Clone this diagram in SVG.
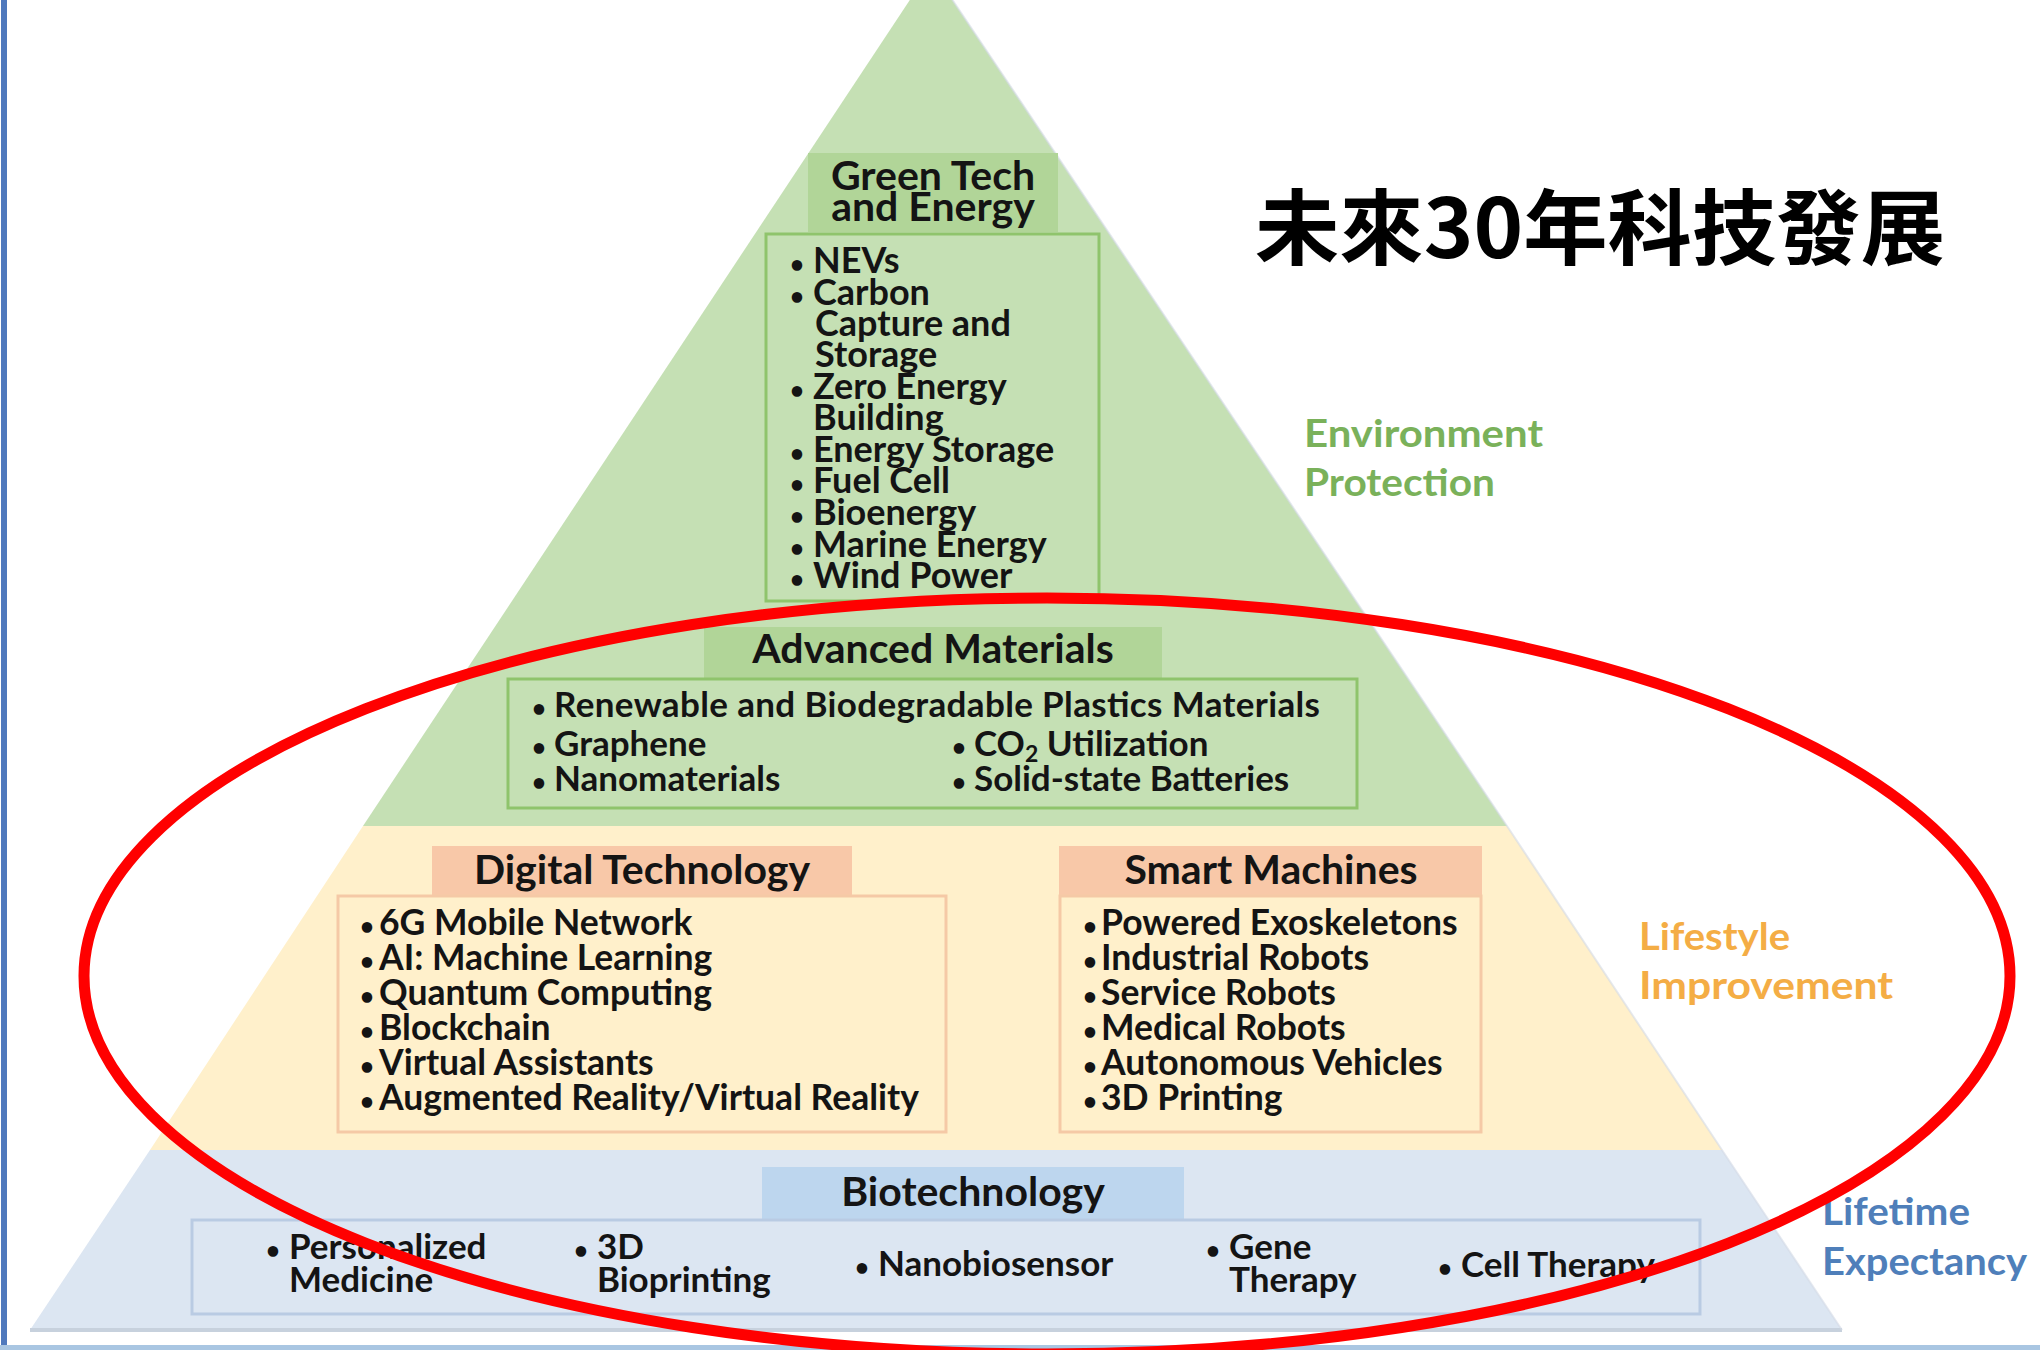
<svg xmlns="http://www.w3.org/2000/svg" width="2040" height="1350" viewBox="0 0 2040 1350">
<style>
.t{font-family:Lato,"Liberation Sans","Noto Sans",sans-serif;font-weight:700;fill:#141414}
.h{font-size:41px;text-anchor:middle}
.lg{font-size:36px}
.la{font-size:35px}
.ld{font-size:35.5px}
.lb{font-size:35px}
.bu{font-size:24px}
.side{font-family:Lato,"Liberation Sans",sans-serif;font-weight:700;font-size:38px}
.gbox{fill:#c5e0b4;stroke:#8fc46c;stroke-width:3}
.ghead{fill:#b1d598}
.ybox{fill:#fff0cb;stroke:#f5c9a6;stroke-width:3}
.yhead{fill:#f8c8a8}
.bbox{fill:#dce6f2;stroke:#b9cbe3;stroke-width:3}
.bhead{fill:#bdd6ee}
</style>
<rect x="0" y="0" width="2040" height="1350" fill="#ffffff"/>
<g id="frame">
<rect x="1" y="0" width="6" height="1350" fill="#4f79bd"/>
<rect x="0" y="1345" width="2040" height="5" fill="#a9c6e2"/>
</g>
<g id="pyramid">
<polygon points="931,-32 1507,826 363,826" fill="#c5e0b4"/>
<polygon points="363,826 1507,826 1722,1150 150,1150" fill="#fff0cb"/>
<polygon points="150,1150 1722,1150 1842,1330 30,1330" fill="#dce6f2"/>
<line x1="30" y1="1330" x2="1842" y2="1330" stroke="#c7d1dd" stroke-width="4"/>
<polyline points="931,-32 1507,826 1722,1150 1842,1330" fill="none" stroke="#d3dbe6" stroke-width="2" opacity="0.6"/>
</g>
<g id="green-tech">
<rect class="ghead" x="808" y="153" width="250" height="79"/>
<rect class="gbox" x="766" y="234" width="333" height="367"/>
<text class="t h" x="933" y="190">Green Tech</text>
<text class="t h" x="933" y="221">and Energy</text>
<g class="t lg">
<text y="273"><tspan class="bu" x="790">•</tspan><tspan x="813">NEVs</tspan></text>
<text y="305"><tspan class="bu" x="790">•</tspan><tspan x="813">Carbon</tspan></text>
<text x="815" y="336">Capture and</text>
<text x="815" y="367">Storage</text>
<text y="399"><tspan class="bu" x="790">•</tspan><tspan x="813">Zero Energy</tspan></text>
<text x="813" y="430">Building</text>
<text y="462"><tspan class="bu" x="790">•</tspan><tspan x="813">Energy Storage</tspan></text>
<text y="493"><tspan class="bu" x="790">•</tspan><tspan x="813">Fuel Cell</tspan></text>
<text y="525"><tspan class="bu" x="790">•</tspan><tspan x="813">Bioenergy</tspan></text>
<text y="557"><tspan class="bu" x="790">•</tspan><tspan x="813">Marine Energy</tspan></text>
<text y="588"><tspan class="bu" x="790">•</tspan><tspan x="813">Wind Power</tspan></text>
</g>
</g>
<g id="advanced-materials">
<rect class="ghead" x="704" y="627" width="458" height="51"/>
<rect class="gbox" x="508" y="679" width="849" height="129"/>
<text class="t h" x="933" y="663">Advanced Materials</text>
<g class="t la">
<text y="717"><tspan class="bu" x="532">•</tspan><tspan x="554" textLength="766" lengthAdjust="spacing">Renewable and Biodegradable Plastics Materials</tspan></text>
<text y="756"><tspan class="bu" x="532">•</tspan><tspan x="554">Graphene</tspan></text>
<text y="791"><tspan class="bu" x="532">•</tspan><tspan x="554">Nanomaterials</tspan></text>
<text y="756"><tspan class="bu" x="952">•</tspan><tspan x="974">CO</tspan><tspan font-size="23" dy="6">2</tspan><tspan dy="-6"> Utilization</tspan></text>
<text y="791"><tspan class="bu" x="952">•</tspan><tspan x="974">Solid-state Batteries</tspan></text>
</g>
</g>
<g id="digital-technology">
<rect class="yhead" x="432" y="846" width="420" height="50"/>
<rect class="ybox" x="338" y="896" width="608" height="236"/>
<text class="t h" x="642" y="884">Digital Technology</text>
<g class="t ld">
<text y="935"><tspan class="bu" x="360">•</tspan><tspan x="379">6G Mobile Network</tspan></text>
<text y="970"><tspan class="bu" x="360">•</tspan><tspan x="379">AI: Machine Learning</tspan></text>
<text y="1005"><tspan class="bu" x="360">•</tspan><tspan x="379">Quantum Computing</tspan></text>
<text y="1040"><tspan class="bu" x="360">•</tspan><tspan x="379">Blockchain</tspan></text>
<text y="1075"><tspan class="bu" x="360">•</tspan><tspan x="379">Virtual Assistants</tspan></text>
<text y="1110"><tspan class="bu" x="360">•</tspan><tspan x="379">Augmented Reality/Virtual Reality</tspan></text>
</g>
</g>
<g id="smart-machines">
<rect class="yhead" x="1059" y="846" width="423" height="50"/>
<rect class="ybox" x="1060" y="896" width="421" height="236"/>
<text class="t h" x="1271" y="884">Smart Machines</text>
<g class="t ld">
<text y="935"><tspan class="bu" x="1083">•</tspan><tspan x="1101">Powered Exoskeletons</tspan></text>
<text y="970"><tspan class="bu" x="1083">•</tspan><tspan x="1101">Industrial Robots</tspan></text>
<text y="1005"><tspan class="bu" x="1083">•</tspan><tspan x="1101">Service Robots</tspan></text>
<text y="1040"><tspan class="bu" x="1083">•</tspan><tspan x="1101">Medical Robots</tspan></text>
<text y="1075"><tspan class="bu" x="1083">•</tspan><tspan x="1101">Autonomous  Vehicles</tspan></text>
<text y="1110"><tspan class="bu" x="1083">•</tspan><tspan x="1101">3D Printing</tspan></text>
</g>
</g>
<g id="biotechnology">
<rect class="bhead" x="762" y="1167" width="422" height="52"/>
<rect class="bbox" x="192" y="1220" width="1508" height="94"/>
<text class="t h" x="973" y="1206">Biotechnology</text>
<g class="t lb">
<text y="1259"><tspan class="bu" x="266">•</tspan><tspan x="289">Personalized</tspan></text>
<text x="289" y="1292">Medicine</text>
<text y="1259"><tspan class="bu" x="574">•</tspan><tspan x="597">3D</tspan></text>
<text x="597" y="1292">Bioprinting</text>
<text y="1276"><tspan class="bu" x="855">•</tspan><tspan x="878">Nanobiosensor</tspan></text>
<text y="1259"><tspan class="bu" x="1206">•</tspan><tspan x="1229">Gene</tspan></text>
<text x="1229" y="1292">Therapy</text>
<text y="1277"><tspan class="bu" x="1438">•</tspan><tspan x="1461">Cell Therapy</tspan></text>
</g>
</g>
<g id="labels">
<text class="side" x="1304" y="447" fill="#7ab15a" textLength="239" lengthAdjust="spacingAndGlyphs">Environment</text>
<text class="side" x="1304" y="496" fill="#7ab15a" textLength="191" lengthAdjust="spacingAndGlyphs">Protection</text>
<text class="side" x="1639" y="950" fill="#f4ad45" textLength="151" lengthAdjust="spacingAndGlyphs">Lifestyle</text>
<text class="side" x="1639" y="999" fill="#f4ad45" textLength="254" lengthAdjust="spacingAndGlyphs">Improvement</text>
<text class="side" x="1822" y="1225" fill="#4f7fba" textLength="148" lengthAdjust="spacingAndGlyphs">Lifetime</text>
<text class="side" x="1822" y="1275" fill="#4f7fba" textLength="205" lengthAdjust="spacingAndGlyphs">Expectancy</text>
</g>
<g id="title">
<text x="1255" y="258" font-family="'Noto Sans CJK TC','Noto Sans CJK SC',sans-serif" font-weight="700" font-size="82" fill="#000" textLength="690" lengthAdjust="spacingAndGlyphs">未來30年科技發展</text>
</g>
<g id="annotation">
<ellipse cx="1047" cy="976" rx="963" ry="378" fill="none" stroke="#ff0000" stroke-width="11"/>
</g>
</svg>
